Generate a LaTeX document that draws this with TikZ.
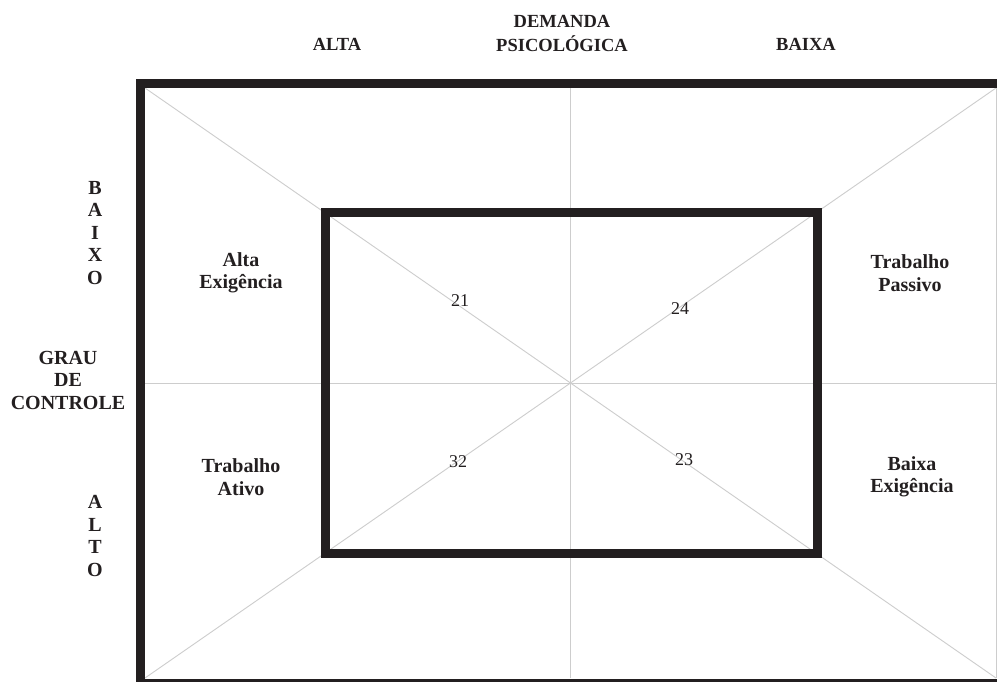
\documentclass[tikz,border=0pt]{standalone}
\usepackage{fontspec}
\setmainfont{Liberation Serif}
\definecolor{ink}{RGB}{35,31,32}
\definecolor{guide}{RGB}{205,205,205}
\begin{document}
\begin{tikzpicture}[x=1pt,y=-1pt,
  thinline/.style={draw=guide,line width=0.9pt},
  thickframe/.style={draw=ink,line width=9pt,line join=miter},
  lbl/.style={text=ink,font=\bfseries\fontsize{20}{22.5}\selectfont,align=center,inner sep=0pt},
  toplbl/.style={text=ink,font=\bfseries\fontsize{18.5}{24}\selectfont,align=center,inner sep=0pt},
  num/.style={text=ink,font=\fontsize{18}{20}\selectfont,inner sep=0pt}]
\useasboundingbox (0,0) rectangle (997,682);
\fill[white] (0,0) rectangle (997,682);
\begin{scope}
\clip (0,0) rectangle (997,682);
\coordinate (TL) at (145,88);
\coordinate (TR) at (996,88);
\coordinate (BL) at (145,678);
\coordinate (BR) at (996,678);
\coordinate (T) at (570.5,88);
\coordinate (B) at (570.5,678);
\coordinate (L) at (145,383);
\coordinate (R) at (996,383);
\draw[thinline] (TL) -- (BR);
\draw[thinline] (BL) -- (TR);
\draw[thinline] (T) -- (B);
\draw[thinline] (L) -- (R);
\draw[thinline] (TR) -- (BR);
\draw[thickframe] (140.5,83.5) rectangle (1002,683);
\draw[thickframe] (325,212.5) rectangle (817,553);
\end{scope}
% top labels
\node[toplbl] (alta) at (337,44) {ALTA};
\node[toplbl] (demanda) at (562,33) {DEMANDA\\PSICOLÓGICA};
\node[toplbl] (baixa) at (806,44) {BAIXA};
% left labels
\node[lbl] (baixo) at (95,233) {B\\A\\I\\X\\O};
\node[lbl] (grau) at (68,380) {GRAU\\DE\\CONTROLE};
\node[lbl] (alto) at (95,536) {A\\L\\T\\O};
% quadrant labels
\node[lbl] (ae) at (241,273) {Alta\\Exigência};
\node[lbl] (ta) at (241,477) {Trabalho\\Ativo};
\node[lbl] (tp) at (910,273) {Trabalho\\Passivo};
\node[lbl] (be) at (912,477) {Baixa\\Exigência};
% numbers
\node[num] (n21) at (460,301) {21};
\node[num] (n24) at (680,309) {24};
\node[num] (n32) at (458,462) {32};
\node[num] (n23) at (684,460) {23};
\end{tikzpicture}
\end{document}
